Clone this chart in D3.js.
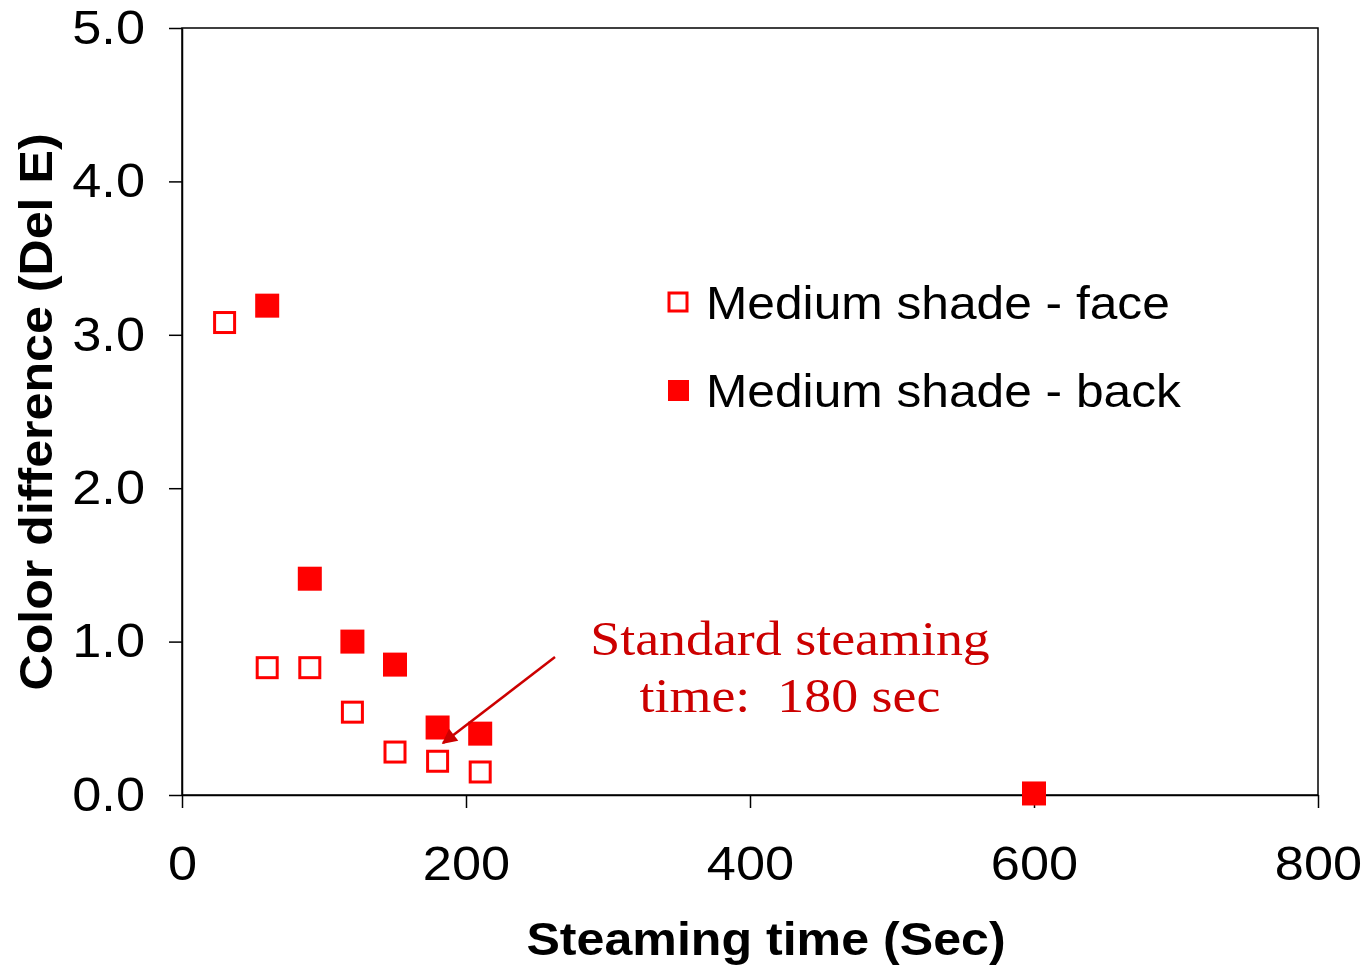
<!DOCTYPE html>
<html>
<head>
<meta charset="utf-8">
<script src="https://cdn.jsdelivr.net/npm/d3@7"></script>
<style>
  body { margin: 0; background: #fff; }
  .tick text { font-family: "Liberation Sans", Arial, sans-serif; }
</style>
</head>
<body>
<div id="chart"></div>
<script>
var canvas_width = 1362,
    canvas_height = 965;

// data
var faceTimes = [30, 60, 90, 120, 150, 180, 210];
var faceValues = [3.08, 0.83, 0.83, 0.54, 0.28, 0.22, 0.15];
var backTimes = [60, 90, 120, 150, 180, 210, 600];
var backValues = [3.19, 1.41, 1.00, 0.85, 0.44, 0.40, 0.01];
var xTicks = [0, 200, 400, 600, 800];
var yTicks = [0, 1, 2, 3, 4, 5];
var seriesNames = ["Medium shade - face", "Medium shade - back"];

var margin = { top: 28, right: 44, bottom: 170, left: 182 };
var width = canvas_width - margin.left - margin.right;
var height = canvas_height - margin.top - margin.bottom;

var sx = 1.09; // the original text is a bit wider than Liberation

var svg = d3.select("#chart")
    .append("svg")
    .attr("width", canvas_width)
    .attr("height", canvas_height);

var g = svg.append("g")
    .attr("transform", "translate(" + margin.left + "," + margin.top + ")");

var xScale = d3.scaleLinear().domain([0, 800]).range([0, width]);
var yScale = d3.scaleLinear().domain([0, 5]).range([height, 0]);

// widen text in place, keeping its anchor point
function stretch(sel, k) {
    sel.each(function () {
        var t = d3.select(this);
        var x = +t.attr("x") || 0, y = +t.attr("y") || 0;
        t.attr("x", 0).attr("y", 0)
            .attr("transform", "translate(" + x + "," + y + ") scale(" + k + ",1)");
    });
}

// plot frame
g.append("rect")
    .attr("width", width)
    .attr("height", height)
    .attr("fill", "none")
    .attr("stroke", "#000")
    .attr("stroke-width", 1.5);

// Axes
var xAxis = g.append("g")
    .attr("transform", "translate(0," + height + ")")
    .call(d3.axisBottom(xScale).tickValues(xTicks).tickSize(13).tickPadding(38).tickSizeOuter(0));
xAxis.selectAll("text").style("font-size", "48px").attr("fill", "#000").call(stretch, sx);

var yAxis = g.append("g")
    .call(d3.axisLeft(yScale).tickValues(yTicks).tickFormat(d3.format(".1f")).tickSize(13).tickPadding(24).tickSizeOuter(0));
yAxis.selectAll("text").style("font-size", "48px").attr("fill", "#000").call(stretch, sx);

svg.selectAll(".domain, .tick line").attr("stroke", "#000").attr("stroke-width", 1.5);

// Labels
svg.append("text")
    .attr("x", 766)
    .attr("y", 955)
    .attr("text-anchor", "middle")
    .style("font-family", "Liberation Sans, Arial, sans-serif")
    .style("font-weight", "bold")
    .style("font-size", "46px")
    .text("Steaming time (Sec)")
    .call(stretch, sx);

svg.append("text")
    .attr("transform", "translate(52,412) rotate(-90) scale(" + sx + ",1)")
    .attr("text-anchor", "middle")
    .style("font-family", "Liberation Sans, Arial, sans-serif")
    .style("font-weight", "bold")
    .style("font-size", "46px")
    .text("Color difference (Del E)");

// points
var faceData = faceTimes.map((t, i) => ({ x: t, y: faceValues[i] }));
var backData = backTimes.map((t, i) => ({ x: t, y: backValues[i] }));

g.selectAll(".face")
    .data(faceData)
    .enter()
    .append("rect")
    .attr("x", d => xScale(d.x) - 10)
    .attr("y", d => yScale(d.y) - 10)
    .attr("width", 20)
    .attr("height", 20)
    .attr("fill", "#fff")
    .attr("stroke", "#ff0000")
    .attr("stroke-width", 3);

g.selectAll(".back")
    .data(backData)
    .enter()
    .append("rect")
    .attr("x", d => xScale(d.x) - 12)
    .attr("y", d => yScale(d.y) - 12)
    .attr("width", 24)
    .attr("height", 24)
    .attr("fill", "#ff0000");

// legend
var legend = svg.append("g").attr("transform", "translate(668,302)");
legend.append("rect")
    .attr("x", 1).attr("y", -9).attr("width", 18).attr("height", 18)
    .attr("fill", "#fff").attr("stroke", "#ff0000").attr("stroke-width", 3);
legend.append("rect")
    .attr("x", 0).attr("y", 78).attr("width", 21).attr("height", 21)
    .attr("fill", "#ff0000");
legend.selectAll("text")
    .data(seriesNames)
    .enter()
    .append("text")
    .attr("x", 38)
    .attr("y", (d, i) => 17 + i * 88)
    .style("font-family", "Liberation Sans, Arial, sans-serif")
    .style("font-size", "47px")
    .text(d => d)
    .call(stretch, 1.057);

// annotation
svg.append("defs").append("marker")
    .attr("id", "arrow")
    .attr("viewBox", "0 0 10 10")
    .attr("refX", 9).attr("refY", 5)
    .attr("markerWidth", 7).attr("markerHeight", 6)
    .attr("orient", "auto")
    .append("path")
    .attr("d", "M0,0 L10,5 L0,10 z")
    .attr("fill", "#cc0000");

svg.append("line")
    .attr("x1", 555).attr("y1", 657)
    .attr("x2", 443).attr("y2", 743)
    .attr("stroke", "#cc0000")
    .attr("stroke-width", 2.5)
    .attr("marker-end", "url(#arrow)");

var noteLines = ["Standard steaming", "time:  180 sec"];
svg.selectAll(".note")
    .data(noteLines)
    .enter()
    .append("text")
    .attr("x", 790)
    .attr("y", (d, i) => 655 + i * 57)
    .attr("text-anchor", "middle")
    .style("font-family", "Liberation Serif, Times New Roman, serif")
    .style("font-size", "49px")
    .style("white-space", "pre")
    .attr("fill", "#cc0000")
    .text(d => d)
    .call(stretch, 1.1);
</script>
</body>
</html>
